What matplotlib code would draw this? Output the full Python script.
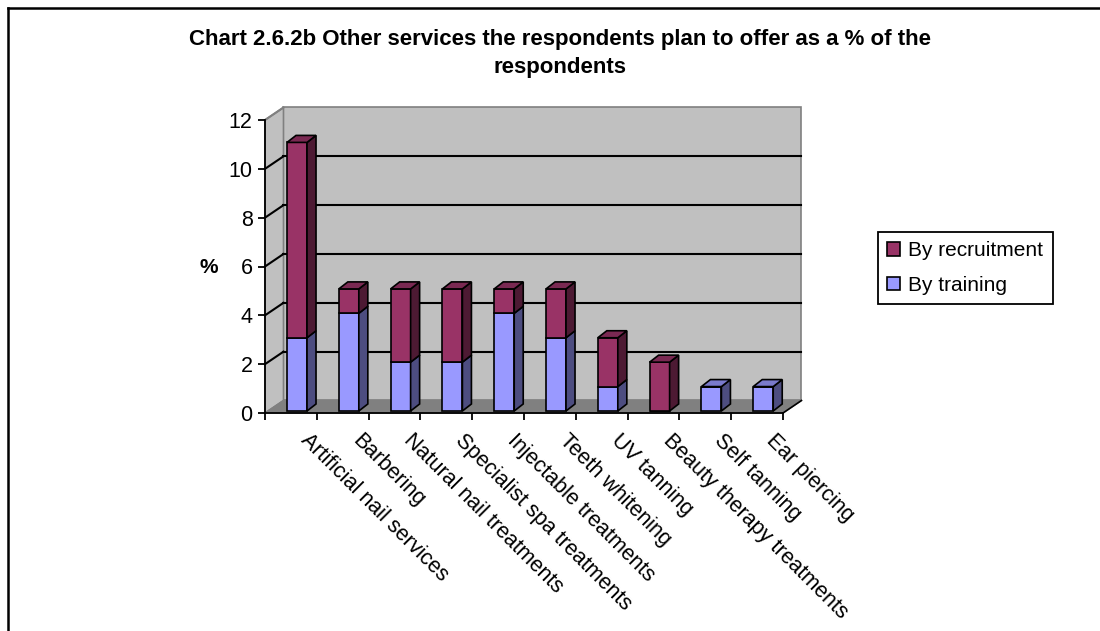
import numpy as np
import matplotlib.pyplot as plt
import matplotlib.transforms as mtransforms
from matplotlib.patches import Polygon, Patch
from matplotlib.lines import Line2D

plt.rcParams['font.family'] = ['Liberation Sans', 'DejaVu Sans']

# Data (% of respondents)
categories = ["Artificial nail services", "Barbering", "Natural nail treatments",
              "Specialist spa treatments", "Injectable treatments", "Teeth whitening",
              "UV tanning", "Beauty therapy treatments", "Self tanning", "Ear piercing"]
by_training = [3, 4, 2, 2, 4, 3, 1, 0, 1, 1]
by_recruitment = [8, 1, 3, 3, 1, 2, 2, 2, 0, 0]
yticks = [0, 2, 4, 6, 8, 10, 12]

col_train = "#9999FF"
col_recr = "#993366"

def shade(c, f):
    r, g, b = plt.matplotlib.colors.to_rgb(c)
    return (r * f, g * f, b * f)

fig = plt.figure(figsize=(11, 6.31), dpi=100)
ax = fig.add_axes([265 / 1100, (631 - 413) / 631, 518 / 1100, 293 / 631])
ax.set_xlim(0, 10)
ax.set_ylim(0, 12)
ax.patch.set_visible(False)

n = len(categories)
DX, DY = 0.357, 0.512          # wall depth (data units)
bx0, by0 = 0.425, 0.082        # bar front-face offset within slot
bw = 0.386                     # bar width
bdx, bdy = 0.174, 0.287        # bar depth

# walls and floor
ax.add_patch(Polygon([(DX, DY), (n + DX, DY), (n + DX, 12 + DY), (DX, 12 + DY)],
                     closed=True, fc="#c0c0c0", ec="#808080", lw=1.2, zorder=0, clip_on=False))
ax.add_patch(Polygon([(0, 0), (DX, DY), (DX, 12 + DY), (0, 12)],
                     closed=True, fc="#c0c0c0", ec="#808080", lw=1.2, zorder=0, clip_on=False))
ax.add_patch(Polygon([(0, 0), (n, 0), (n + DX, DY), (DX, DY)],
                     closed=True, fc="#808080", ec="#808080", lw=1, zorder=1, clip_on=False))
ax.plot([n, n + DX], [0, DY], color="black", lw=1.2, zorder=1, clip_on=False)

# gridlines on back and left wall
for y in yticks[1:]:
    c = "#808080" if y == 12 else "black"
    if y < 12:
        ax.plot([DX, n + DX], [y + DY, y + DY], color=c, lw=1.5, zorder=1, clip_on=False)
    ax.plot([0, DX], [y, y + DY], color=c, lw=1.5, zorder=1, clip_on=False)

# bars
x0 = np.arange(n) + bx0
ax.bar(x0, by_training, width=bw, bottom=by0, align='edge',
       color=col_train, edgecolor="black", lw=1.2, zorder=3)
ax.bar(x0, by_recruitment, width=bw, bottom=by0 + np.array(by_training), align='edge',
       color=col_recr, edgecolor="black", lw=1.2, zorder=3)

for i in range(n):
    xl, xr = x0[i], x0[i] + bw
    base = by0
    segs = [(by_training[i], col_train), (by_recruitment[i], col_recr)]
    top_col = None
    for v, c in segs:
        if v <= 0:
            continue
        y1 = base + v
        ax.add_patch(Polygon([(xr, base), (xr + bdx, base + bdy), (xr + bdx, y1 + bdy), (xr, y1)],
                             closed=True, fc=shade(c, 0.5), ec="black", lw=1.2, zorder=3, clip_on=False))
        base = y1
        top_col = c
    if top_col is not None:
        ax.add_patch(Polygon([(xl, base), (xr, base), (xr + bdx, base + bdy), (xl + bdx, base + bdy)],
                             closed=True, fc=shade(top_col, 0.8), ec="black", lw=1.2, zorder=3, clip_on=False))

# axes styling
for s in ["top", "right"]:
    ax.spines[s].set_visible(False)
for s in ["left", "bottom"]:
    ax.spines[s].set_linewidth(1.3)
    ax.spines[s].set_zorder(2)
ax.set_yticks(yticks)
ax.tick_params(axis='y', direction='out', length=5, width=1.3, labelsize=15.5, pad=4)
ax.set_xticks(np.arange(n + 1))
ax.set_xticklabels([])
ax.tick_params(axis='x', which='major', direction='out', length=5, width=1.3)
ax.set_xticks(np.arange(n) + 0.5, minor=True)
ax.set_xticklabels(categories, minor=True)
ax.tick_params(axis='x', which='minor', length=0, pad=12, labelsize=15.5)
shift = mtransforms.ScaledTranslation(20 / 100, 0, fig.dpi_scale_trans)
for lab in ax.get_xticklabels(minor=True):
    lab.set_rotation(-45)
    lab.set_ha('left')
    lab.set_va('top')
    lab.set_rotation_mode('anchor')
    lab.set_transform(lab.get_transform() + shift)

fig.text(209 / 1100, 1 - 268 / 631, "%", fontsize=15, fontweight='bold', ha='center', va='center')

fig.text(560 / 1100, 1 - 40 / 631,
         "Chart 2.6.2b Other services the respondents plan to offer as a % of the",
         fontsize=16, fontweight='bold', ha='center', va='center')
fig.text(560 / 1100, 1 - 68 / 631, "respondents",
         fontsize=16, fontweight='bold', ha='center', va='center')

handles = [Patch(fc=col_recr, ec="black", lw=1.2), Patch(fc=col_train, ec="black", lw=1.2)]
leg = fig.legend(handles, ["By recruitment", "By training"], loc='upper left',
                 bbox_to_anchor=(878 / 1100, 1 - 232 / 631), fontsize=15,
                 frameon=True, fancybox=False, edgecolor="black", framealpha=1,
                 handlelength=0.6, handleheight=0.6, handletextpad=0.4,
                 labelspacing=0.75, borderpad=0.45, borderaxespad=0)
leg.get_frame().set_linewidth(1.3)

# outer chart border (left and top)
fig.add_artist(Line2D([7.5 / 1100, 7.5 / 1100], [0, 1 - 7.5 / 631], color="black", lw=1.8,
                      transform=fig.transFigure))
fig.add_artist(Line2D([7.5 / 1100, 1], [1 - 7.5 / 631, 1 - 7.5 / 631], color="black", lw=1.8,
                      transform=fig.transFigure))

fig.savefig("out.png", dpi=100)
